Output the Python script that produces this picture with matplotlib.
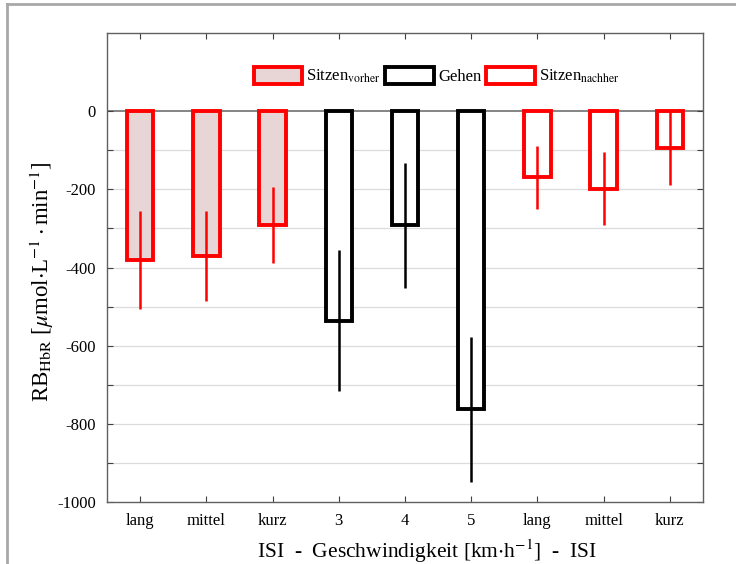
import matplotlib
matplotlib.use("Agg")
import matplotlib.pyplot as plt
from matplotlib.lines import Line2D
from matplotlib.patches import Patch
import numpy as np

plt.rcParams["font.family"] = ["Liberation Serif", "DejaVu Serif"]
plt.rcParams["mathtext.fontset"] = "stix"

# data
categories = ["lang", "mittel", "kurz", "3", "4", "5", "lang", "mittel", "kurz"]
means = [-380, -370, -291, -536, -292, -763, -169, -198, -95]
errors = [125, 115, 98, 181, 160, 185, 81, 93, 95]
groups = ["vorher"] * 3 + ["gehen"] * 3 + ["nachher"] * 3

RED = "#ff0000"
styles = {
    "vorher": dict(face="#e8d6d6", edge=RED),
    "gehen": dict(face="white", edge="black"),
    "nachher": dict(face="white", edge=RED),
}

fig = plt.figure(figsize=(7.36, 5.64), dpi=100)
ax = fig.add_axes([107 / 736, 1 - 502 / 564, 596 / 736, 469 / 564])

x = np.arange(1, len(categories) + 1)

# light grid, drawn below the bars
for yv in range(-900, 0, 100):
    ax.axhline(yv, color="#dcdcdc", lw=0.9, zorder=0)
ax.axhline(0, color="#707070", lw=1.2, zorder=1)

for xi, m, e, g in zip(x, means, errors, groups):
    st = styles[g]
    ax.bar(xi, m, width=0.4, color=st["face"], edgecolor=st["edge"],
           linewidth=2.8, zorder=2)
    ax.plot([xi, xi], [m - e, m + e], color=st["edge"], lw=1.8,
            solid_capstyle="butt", zorder=3)

ax.set_xlim(0.5, 9.5)
ax.set_ylim(-1000, 200)
ax.set_xticks(x)
ax.set_xticklabels(categories, fontsize=12)
ax.set_yticks(np.arange(-1000, 1, 100))
ax.set_yticklabels([str(v) if v % 200 == 0 else "" for v in range(-1000, 1, 100)],
                   fontsize=12)
ax.tick_params(direction="in", length=4, width=0.8, color="#404040",
               top=True, right=True, pad=8)
for s in ax.spines.values():
    s.set_color("#606060")
    s.set_linewidth(1.0)

ax.set_ylabel(r"RB$_{\mathrm{HbR}}$ [$\mu$mol$\cdot$L$^{-1}\cdot$min$^{-1}$]",
              fontsize=16.5)
ax.yaxis.set_label_coords(-0.085, 0.47)
ax.set_xlabel(r"ISI  -  Geschwindigkeit [km$\cdot$h$^{-1}$]  -  ISI",
              fontsize=15.5)
ax.xaxis.set_label_coords(0.537, -0.075)

handles = [
    Patch(facecolor=styles[k]["face"], edgecolor=styles[k]["edge"], linewidth=2.8)
    for k in ["vorher", "gehen", "nachher"]
]
labels = [r"Sitzen$_{\mathrm{vorher}}$", "Gehen", r"Sitzen$_{\mathrm{nachher}}$"]
ax.legend(handles, labels, loc="center", bbox_to_anchor=(0.553, 0.908), ncol=3,
          frameon=False, fontsize=12, handlelength=2.9, handleheight=1.2,
          handletextpad=0.25, columnspacing=0.3)

# outer gray frame of the figure panel
fig.add_artist(Line2D([7 / 736, 1], [1 - 4 / 564, 1 - 4 / 564], color="#a8a8a8", lw=2))
fig.add_artist(Line2D([7 / 736, 7 / 736], [0, 1 - 4 / 564], color="#a8a8a8", lw=2))

fig.savefig("out.png", dpi=100)
